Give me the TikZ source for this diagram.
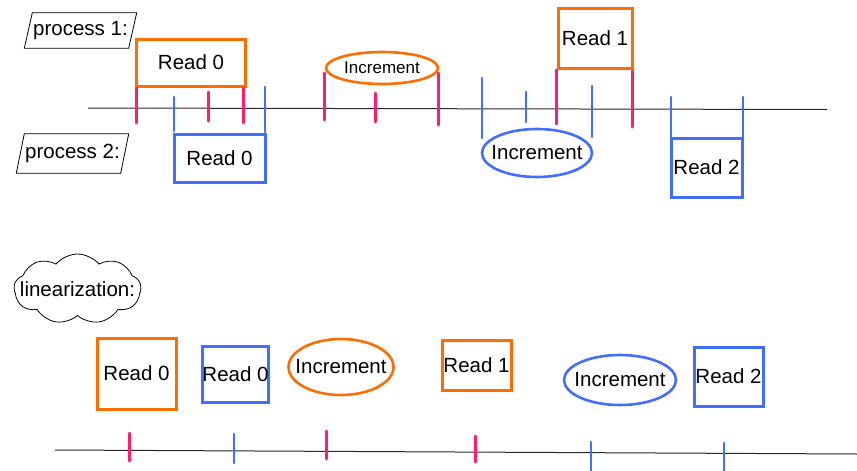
\documentclass[tikz,border=0pt]{standalone}
\usepackage{fontspec}
\setmainfont{Liberation Sans}
\usetikzlibrary{shapes.geometric,shapes.symbols}
\definecolor{orng}{RGB}{255,109,1}
\definecolor{blu}{RGB}{66,110,255}
\definecolor{pnk}{RGB}{255,30,110}
\definecolor{axis}{RGB}{40,40,40}
\tikzset{
  txt/.style={font=\fontsize{20.5}{24}\selectfont},
  obox/.style={draw=orng, line width=3pt, rectangle, inner sep=0pt, txt},
  bbox/.style={draw=blu, line width=3pt, rectangle, inner sep=0pt, txt},
  oell/.style={draw=orng, line width=2.6pt, ellipse, inner sep=0pt},
  bell/.style={draw=blu, line width=2.6pt, ellipse, inner sep=0pt},
  ptick/.style={draw=pnk, line width=3pt, line cap=round},
  btick/.style={draw=blu, line width=2.8pt, line cap=round},
  axisline/.style={draw=axis, line width=1pt},
  plabel/.style={inner sep=0pt, txt},
  para/.style={draw=black, line width=0.8pt},
}
\begin{document}
\begin{tikzpicture}[x=1pt,y=-1pt]
\useasboundingbox (0,0) rectangle (857,471);

% ---- top timeline ----
\coordinate (tl1) at (88,108);
\coordinate (tl2) at (827,109.5);
\draw[axisline] (tl1) -- (tl2);

% process labels (parallelograms)
\node[plabel, minimum width=104pt, minimum height=35pt] (p1) at (80.5,30.5) {process 1:};
\draw[para] ([xshift=-4pt]p1.south west) -- ([xshift=4pt]p1.north west) -- ([xshift=4pt]p1.north east) -- ([xshift=-4pt]p1.south east) -- cycle;
\node[plabel, minimum width=104pt, minimum height=39pt] (p2) at (72.5,153.5) {process 2:};
\draw[para] ([xshift=-4pt]p2.south west) -- ([xshift=4pt]p2.north west) -- ([xshift=4pt]p2.north east) -- ([xshift=-4pt]p2.south east) -- cycle;

% process 1 operations
\node[obox, minimum width=109pt, minimum height=47pt] (r0a) at (191,62.5) {Read 0};
\node[oell, minimum width=112pt, minimum height=32pt,
      label={[font=\fontsize{17}{20}\selectfont]center:Increment}] (inca) at (382,68) {};
\node[obox, minimum width=74pt, minimum height=60pt] (r1a) at (595,38) {Read 1};

% process 2 operations
\node[bbox, minimum width=91pt, minimum height=48pt] (r0b) at (219.5,158) {Read 0};
\node[bell, minimum width=110pt, minimum height=48pt, label={[txt]center:Increment}] (incb) at (537,153) {};
\node[bbox, minimum width=71pt, minimum height=59pt] (r2b) at (706.5,167.5) {Read 2};

% pink ticks (process 1)
\draw[ptick] (136,88) -- (136,123);
\draw[ptick] (208,92) -- (208,121);
\draw[ptick] (243,88) -- (243,123);
\draw[ptick] (324,73) -- (324,120);
\draw[ptick] (375,93) -- (375,122);
\draw[ptick] (438,73) -- (438,125);
\draw[ptick] (556,70) -- (556,124);
\draw[ptick] (632,71) -- (632,127);

% blue ticks (process 2)
\draw[btick] (174,97) -- (174,131);
\draw[btick] (265,87) -- (265,132);
\draw[btick] (482,78) -- (482,138);
\draw[btick] (526,92) -- (526,122);
\draw[btick] (592,86) -- (592,137);
\draw[btick] (671,97) -- (671,162);
\draw[btick] (743,97) -- (743,162);

% ---- linearization ----
\node[cloud, draw=black, line width=0.8pt, cloud puffs=9, cloud puff arc=100, cloud ignores aspect,
      minimum width=127pt, minimum height=70pt, inner sep=0pt] (cl) at (77.5,289) {};
\node[plabel] (cltext) at (cl.center) {linearization:};

\coordinate (bl1) at (55,450);
\coordinate (bl2) at (857,454);
\draw[axisline] (bl1) -- (bl2);

\node[obox, minimum width=79pt, minimum height=71pt] (lr0a) at (136.5,373.5) {Read 0};
\node[bbox, minimum width=65pt, minimum height=56pt] (lr0b) at (235.5,374) {Read 0};
\node[oell, minimum width=105pt, minimum height=56pt, label={[txt]center:Increment}] (linca) at (341,367) {};
\node[obox, minimum width=69pt, minimum height=50pt] (lr1a) at (476.5,365) {Read 1};
\node[bell, minimum width=112pt, minimum height=50pt, label={[txt]center:Increment}] (lincb) at (620,380) {};
\node[bbox, minimum width=69pt, minimum height=59pt] (lr2b) at (728.5,376.5) {Read 2};

\draw[ptick] (129,433) -- (129,461);
\draw[btick] (234,434) -- (234,463);
\draw[ptick] (326,431) -- (326,459);
\draw[ptick] (475,436) -- (475,462);
\draw[btick] (591,442) -- (591,474);
\draw[btick] (724,443) -- (724,474);
\end{tikzpicture}
\end{document}
